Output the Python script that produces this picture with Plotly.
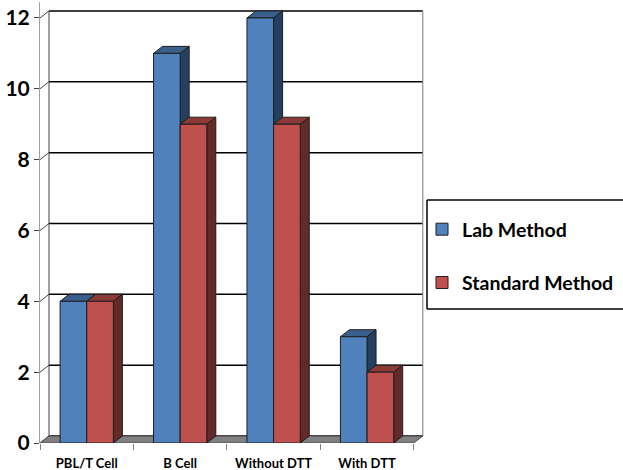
import plotly.graph_objects as go

# ---- data ----
categories = ["PBL/T Cell", "B Cell", "Without DTT", "With DTT"]
lab_method = [4, 11, 12, 3]
standard_method = [4, 9, 9, 2]
y_ticks = [0, 2, 4, 6, 8, 10, 12]
series_names = ["Lab Method", "Standard Method"]

# ---- styling / geometry ----
FONT = "Lato, Carlito, Calibri, Liberation Sans, sans-serif"
W, H = 623, 470
L, R, T, B = 40, 198, 2, 27
XR = [0, 4.12]
YR = [0, 12.45]
pw = W - L - R
ph = H - T - B
xs = pw / (XR[1] - XR[0])
ys = ph / (YR[1] - YR[0])
DX = 9 / xs          # 3D depth offset in data units
DY = 7 / ys
bw = 0.285
xc = [i + 0.5 for i in range(len(categories))]
ncat = len(categories)

colors = {
    0: dict(front="#4F81BD", top="#3A5F8B", side="#253F60"),
    1: dict(front="#C0504D", top="#8C3A38", side="#632A29"),
}
EDGE = "#1e1e1e"

shapes = []


def poly(pts, fill, line=EDGE, lw=1):
    path = "M " + " L ".join(f"{x},{y}" for x, y in pts) + " Z"
    shapes.append(dict(type="path", path=path, xref="x", yref="y",
                       fillcolor=fill, line=dict(color=line, width=lw),
                       layer="below"))


def seg(x0, y0, x1, y1, color, w, ref=("x", "y"), layer="below"):
    shapes.append(dict(type="line", x0=x0, y0=y0, x1=x1, y1=y1,
                       xref=ref[0], yref=ref[1], line=dict(color=color, width=w),
                       layer=layer))


# back wall gridlines and left wall connectors
for v in y_ticks:
    seg(DX, v + DY, ncat + DX, v + DY, "black", 1.5)
    seg(0, v, DX, v + DY, "#404040", 1)
seg(DX, DY, DX, y_ticks[-1] + DY, "#404040", 1)
seg(ncat + DX, DY, ncat + DX, y_ticks[-1] + DY, "#7a7a7a", 1)

# floor
poly([(0, 0), (ncat, 0), (ncat + DX, DY), (DX, DY)], "#808080", "#4a4a4a", 1)

# bar tops / sides (3D faces)
for i in range(ncat):
    for k, vals in enumerate([lab_method, standard_method]):
        v = vals[i]
        x0 = xc[i] + (k - 1) * bw
        x1 = x0 + bw
        poly([(x0, v), (x1, v), (x1 + DX, v + DY), (x0 + DX, v + DY)], colors[k]["top"])
        poly([(x1, 0), (x1, v), (x1 + DX, v + DY), (x1 + DX, DY)], colors[k]["side"])

fig = go.Figure()
for k, (name, vals) in enumerate(zip(series_names, [lab_method, standard_method])):
    fig.add_trace(go.Bar(
        x=xc, y=vals, width=bw, offset=(k - 1) * bw, name=name,
        legendgroup=f"g{k}",
        marker=dict(color=colors[k]["front"], line=dict(color=EDGE, width=1)),
        hoverinfo="skip",
    ))


def pxx(px):
    return (px - L) / pw


def pxy(py):
    return (H - B - py) / ph


# legend box (right side runs off the picture)
box = dict(l=pxx(427), r=pxx(630), t=pxy(200), b=pxy(309))
seg(box["l"], box["t"], box["r"], box["t"], "black", 1.5, ("paper", "paper"), "above")
seg(box["l"], box["b"], box["r"], box["b"], "black", 1.5, ("paper", "paper"), "above")
seg(box["l"], box["b"], box["l"], box["t"], "black", 1.5, ("paper", "paper"), "above")

fig.update_layout(
    width=W, height=H,
    margin=dict(l=L, r=R, t=T, b=B, autoexpand=False),
    paper_bgcolor="white", plot_bgcolor="white",
    barmode="overlay",
    shapes=shapes,
    showlegend=True,
    legend=dict(x=pxx(422), y=pxy(210), xanchor="left", yanchor="top",
                font=dict(family=FONT, size=19.5, color="black", weight="bold"),
                bgcolor="rgba(0,0,0,0)", borderwidth=0,
                traceorder="grouped", tracegroupgap=25),
    xaxis=dict(range=XR, tickvals=xc, ticktext=categories, ticks="",
               showgrid=False, zeroline=False, showline=False, automargin=False,
               ticklabelstandoff=11,
               tickfont=dict(family=FONT, size=13, color="black", weight="bold"),
               minor=dict(ticks="outside", tickvals=list(range(ncat + 1)), ticklen=6,
                          tickcolor="#808080", tickwidth=1, showgrid=False)),
    yaxis=dict(range=YR, tickvals=y_ticks, ticks="outside", ticklen=5, automargin=False,
               tickcolor="#404040", showline=True, linecolor="#a0a0a0", linewidth=1,
               showgrid=False, zeroline=False,
               tickfont=dict(family=FONT, size=21, color="black", weight="bold")),
)

fig.write_html("out.html",
               config={"displayModeBar": False},
               post_script="document.body.style.margin='0';")
